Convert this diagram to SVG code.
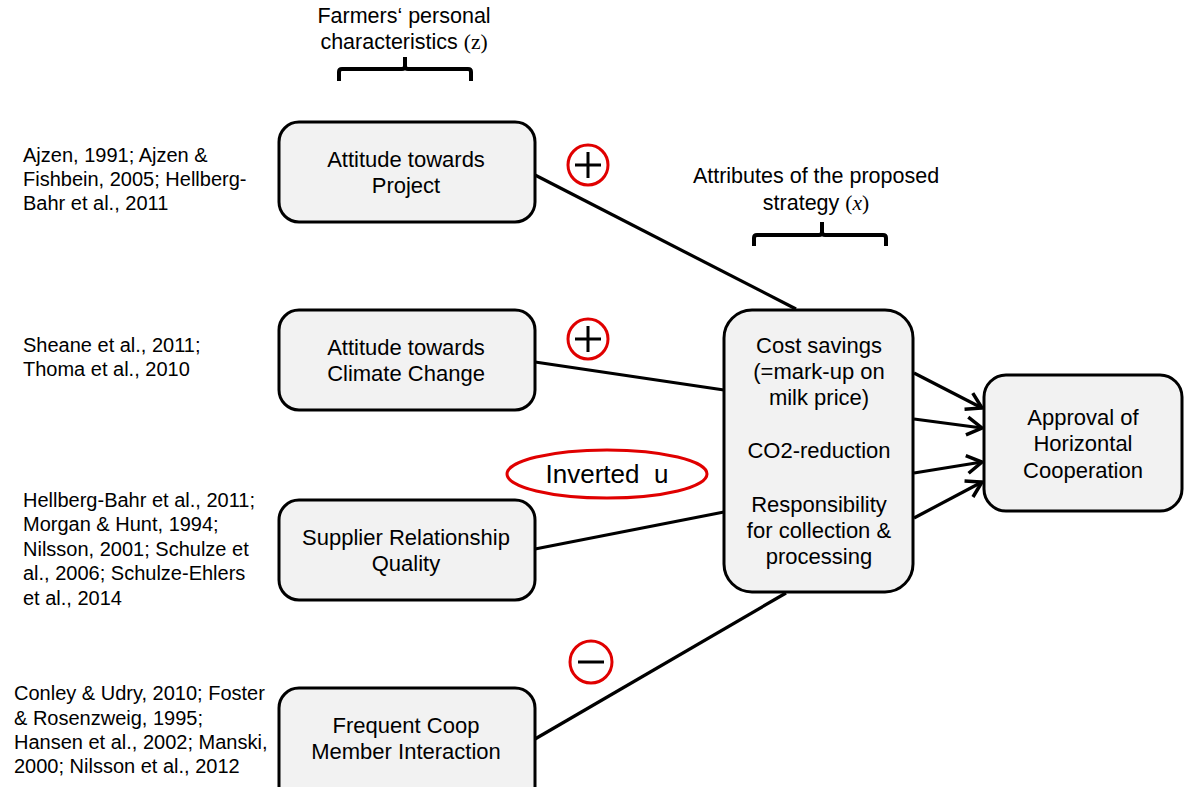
<svg xmlns="http://www.w3.org/2000/svg" width="1184" height="787" viewBox="0 0 1184 787">
<style>
text{font-family:"Liberation Sans",Arial,sans-serif;fill:#000}
.box{fill:#f2f2f2;stroke:#000;stroke-width:3}
.bt{font-size:22px;text-anchor:middle}
.cite{font-size:20px}
.lbl{font-size:21.5px;text-anchor:middle}
.con{stroke:#000;stroke-width:3.2;fill:none}
.sign{fill:none;stroke:#e00000;stroke-width:3}
.brk{fill:none;stroke:#000;stroke-width:4}
.math{font-family:"Liberation Serif","Times New Roman",serif}
</style>
<defs>
<marker id="arr" markerUnits="userSpaceOnUse" markerWidth="24" markerHeight="24" viewBox="-20 -12 24 24" refX="0" refY="0" orient="auto">
<path d="M-15,-9 L0,0 L-15,9" fill="none" stroke="#000" stroke-width="3.5" stroke-linejoin="miter"/>
</marker>
</defs>
<rect width="1184" height="787" fill="#fff"/>

<g id="header-z">
<text class="lbl" x="404" y="23">Farmers‘ personal</text>
<text class="lbl" x="404" y="49">characteristics <tspan class="math">(z)</tspan></text>
<path class="brk" d="M339,81 V72 Q339,69 342,69 H402 Q405,69 405,66 V57 M405,66 Q405,69 408,69 H468 Q471,69 471,72 V81"/>
</g>

<g id="header-x">
<text class="lbl" x="816" y="183">Attributes of the proposed</text>
<text class="lbl" x="816" y="210">strategy <tspan class="math">(<tspan font-style="italic">x</tspan>)</tspan></text>
<path class="brk" d="M754,246 V238 Q754,235 757,235 H819 Q822,235 822,232 V222 M822,232 Q822,235 825,235 H883 Q886,235 886,238 V246"/>
</g>

<g id="connectors">
<line class="con" x1="535" y1="175" x2="796" y2="309"/>
<line class="con" x1="535" y1="362" x2="724" y2="390"/>
<line class="con" x1="535" y1="549" x2="724" y2="512"/>
<line class="con" x1="535" y1="739" x2="786" y2="593"/>
<line class="con" x1="914" y1="373" x2="982" y2="408" marker-end="url(#arr)"/>
<line class="con" x1="914" y1="419" x2="982" y2="428" marker-end="url(#arr)"/>
<line class="con" x1="914" y1="473" x2="982" y2="462" marker-end="url(#arr)"/>
<line class="con" x1="914" y1="518" x2="982" y2="482" marker-end="url(#arr)"/>
</g>

<g id="cite1">
<text class="cite" x="23" y="162">Ajzen, 1991; Ajzen &amp;</text>
<text class="cite" x="23" y="186">Fishbein, 2005; Hellberg-</text>
<text class="cite" x="23" y="210">Bahr et al., 2011</text>
</g>
<g id="cite2">
<text class="cite" x="23" y="352">Sheane et al., 2011;</text>
<text class="cite" x="23" y="376">Thoma et al., 2010</text>
</g>
<g id="cite3">
<text class="cite" x="23" y="507">Hellberg-Bahr et al., 2011;</text>
<text class="cite" x="23" y="531">Morgan &amp; Hunt, 1994;</text>
<text class="cite" x="23" y="556">Nilsson, 2001; Schulze et</text>
<text class="cite" x="23" y="580">al., 2006; Schulze-Ehlers</text>
<text class="cite" x="23" y="605">et al., 2014</text>
</g>
<g id="cite4">
<text class="cite" x="14" y="700">Conley &amp; Udry, 2010; Foster</text>
<text class="cite" x="14" y="725">&amp; Rosenzweig, 1995;</text>
<text class="cite" x="14" y="749">Hansen et al., 2002; Manski,</text>
<text class="cite" x="14" y="773">2000; Nilsson et al., 2012</text>
</g>

<g id="node-project">
<rect class="box" x="279" y="122" width="256" height="100" rx="20"/>
<text class="bt" x="406" y="167">Attitude towards</text>
<text class="bt" x="406" y="193">Project</text>
</g>
<g id="node-climate">
<rect class="box" x="279" y="310" width="256" height="100" rx="20"/>
<text class="bt" x="406" y="355">Attitude towards</text>
<text class="bt" x="406" y="381">Climate Change</text>
</g>
<g id="node-supplier">
<rect class="box" x="279" y="500" width="256" height="100" rx="20"/>
<text class="bt" x="406" y="545">Supplier Relationship</text>
<text class="bt" x="406" y="571">Quality</text>
</g>
<g id="node-frequent">
<rect class="box" x="279" y="688" width="256" height="120" rx="20"/>
<text class="bt" x="406" y="733">Frequent Coop</text>
<text class="bt" x="406" y="759">Member Interaction</text>
</g>

<g id="node-attributes">
<rect class="box" x="724" y="310" width="189" height="282" rx="28"/>
<text class="bt" x="819" y="353">Cost savings</text>
<text class="bt" x="819" y="379">(=mark-up on</text>
<text class="bt" x="819" y="405">milk price)</text>
<text class="bt" x="819" y="458">CO2-reduction</text>
<text class="bt" x="819" y="512">Responsibility</text>
<text class="bt" x="819" y="538">for collection &amp;</text>
<text class="bt" x="819" y="564">processing</text>
</g>

<g id="node-approval">
<rect class="box" x="984" y="375" width="198" height="136" rx="22"/>
<text class="bt" x="1083" y="425">Approval of</text>
<text class="bt" x="1083" y="451">Horizontal</text>
<text class="bt" x="1083" y="478">Cooperation</text>
</g>

<g id="sign-plus1">
<circle class="sign" cx="588" cy="165" r="20"/>
<path d="M575,165 H601 M588,152 V178" stroke="#000" stroke-width="3"/>
</g>
<g id="sign-plus2">
<circle class="sign" cx="588" cy="339" r="20"/>
<path d="M575,339 H601 M588,326 V352" stroke="#000" stroke-width="3"/>
</g>
<g id="sign-inverted">
<ellipse class="sign" cx="607" cy="474" rx="100" ry="24"/>
<text x="607" y="483" font-size="26" text-anchor="middle" xml:space="preserve">Inverted  u</text>
</g>
<g id="sign-minus">
<circle class="sign" cx="591" cy="662" r="21"/>
<path d="M578,662 H604" stroke="#000" stroke-width="3"/>
</g>
</svg>
